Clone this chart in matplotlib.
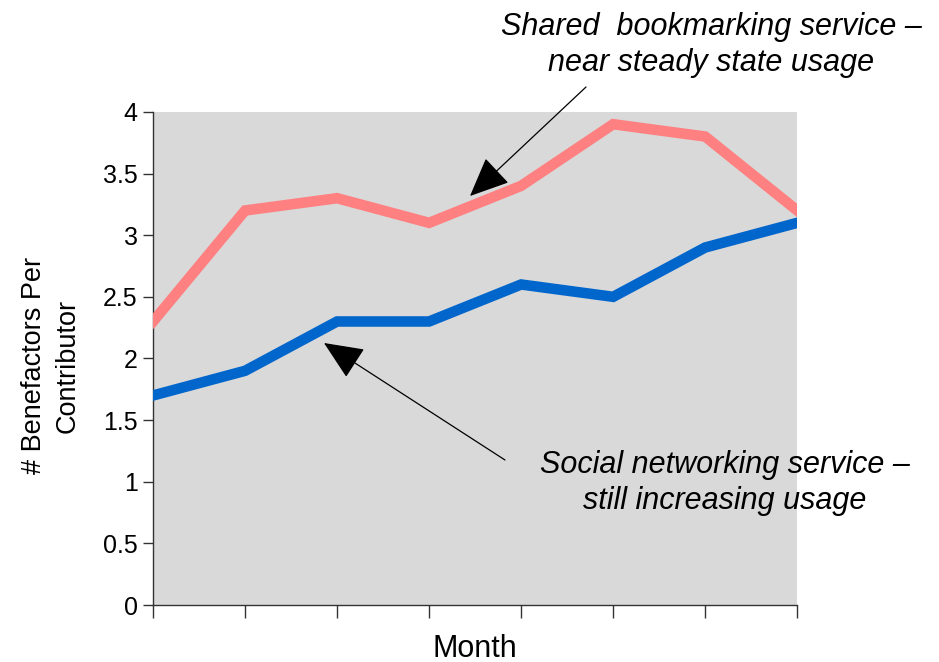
import numpy as np
import matplotlib.pyplot as plt

# data
months = np.arange(1, 9)
bookmarking = [2.3, 3.2, 3.3, 3.1, 3.4, 3.9, 3.8, 3.2]
social = [1.7, 1.9, 2.3, 2.3, 2.6, 2.5, 2.9, 3.1]
yticks = [0, 0.5, 1, 1.5, 2, 2.5, 3, 3.5, 4]
ytick_labels = ['0', '0.5', '1', '1.5', '2', '2.5', '3', '3.5', '4']

plt.rcParams['font.family'] = ['Liberation Sans', 'DejaVu Sans']

fig = plt.figure(figsize=(9.39, 6.62), dpi=100)
ax = fig.add_axes([0.163, 0.086, 0.686, 0.745])
ax.set_facecolor('#d9d9d9')

ax.plot(months, bookmarking, color='#ff8080', lw=7.6, solid_joinstyle='miter', zorder=3)
ax.plot(months, social, color='#0066cc', lw=7.6, solid_joinstyle='miter', zorder=3)

ax.set_xlim(1, 8)
ax.set_ylim(0, 4)
ax.set_yticks(yticks)
ax.set_yticklabels(ytick_labels, fontsize=18)
ax.set_xticks(months)
ax.set_xticklabels([])
ax.tick_params(axis='x', direction='out', length=9, width=1, color='#333333')
ax.tick_params(axis='y', direction='out', length=7, width=1, color='#333333', pad=4)

for s in ['top', 'right']:
    ax.spines[s].set_visible(False)
for s in ['left', 'bottom']:
    ax.spines[s].set_color('#333333')
    ax.spines[s].set_linewidth(1)

ax.set_xlabel('Month', fontsize=22, labelpad=8)
ax.set_ylabel('# Benefactors Per\nContributor', fontsize=19.5, linespacing=1.35)
ax.yaxis.set_label_coords(-0.113, 0.485)

arrow = dict(arrowstyle='-|>,head_length=2.5,head_width=1.1', color='black', lw=0.9,
             shrinkA=0, shrinkB=0)
ax.annotate('', xy=(470, 662 - 196), xycoords='figure pixels',
            xytext=(586, 662 - 87), textcoords='figure pixels', arrowprops=arrow)
ax.annotate('', xy=(324, 662 - 343), xycoords='figure pixels',
            xytext=(505, 662 - 460), textcoords='figure pixels', arrowprops=arrow)

fig.text(711 / 939, 1 - 45 / 662, 'Shared  bookmarking service \u2013\nnear steady state usage',
         ha='center', va='center', fontsize=22, style='italic', linespacing=1.3)
fig.text(725 / 939, 1 - 483 / 662, 'Social networking service \u2013\nstill increasing usage',
         ha='center', va='center', fontsize=22, style='italic', linespacing=1.25)

fig.savefig('out.png', dpi=100)
